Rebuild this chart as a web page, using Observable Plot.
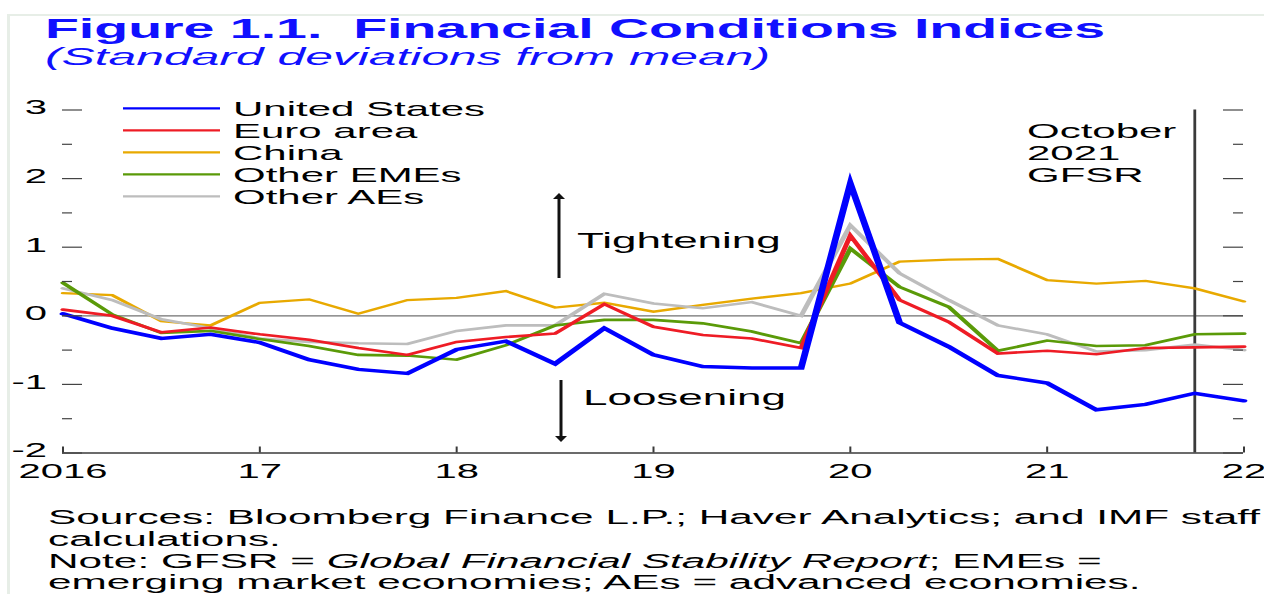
<!DOCTYPE html>
<html>
<head>
<meta charset="utf-8">
<script src="https://cdn.jsdelivr.net/npm/d3@7"></script>
<script src="https://cdn.jsdelivr.net/npm/@observablehq/plot@0.6"></script>
<style>
  html, body { margin: 0; padding: 0; background: #fff; width: 1264px; height: 594px; overflow: hidden;
    font-family: "Liberation Sans", Arial, sans-serif; }
  #frame { position: absolute; left: 7px; top: 14px; width: 1260px; height: 590px;
    border-left: 3px solid #e7eee7; border-top: 2px solid #e7eee7; }
  .st { position: absolute; white-space: nowrap; transform-origin: 0 0; line-height: 1; }
  #title { left: 45px; top: 16px; font-weight: bold; font-size: 27px; color: #1010ff; }
  #subtitle { left: 45px; top: 46px; font-style: italic; font-size: 23px; color: #1010ff; }
  .note { left: 48px; font-size: 20px; color: #000; }
</style>
</head>
<body>
<div id="frame"></div>
<div id="title" class="st">Figure 1.1.&nbsp; Financial Conditions Indices</div>
<div id="subtitle" class="st">(Standard deviations from mean)</div>
<div id="n1" class="st note" style="top:507px">Sources: Bloomberg Finance L.P.; Haver Analytics; and IMF staff</div>
<div id="n2" class="st note" style="top:529px">calculations.</div>
<div id="n3" class="st note" style="top:551px">Note: GFSR = <i>Global Financial Stability Report</i>; EMEs =</div>
<div id="n4" class="st note" style="top:572px">emerging market economies; AEs = advanced economies.</div>
<div id="chart"></div>
<script>
// ---------------- data ----------------
const quarters = ["2016Q1","2016Q2","2016Q3","2016Q4","2017Q1","2017Q2","2017Q3","2017Q4",
  "2018Q1","2018Q2","2018Q3","2018Q4","2019Q1","2019Q2","2019Q3","2019Q4",
  "2020Q1","2020Q2","2020Q3","2020Q4","2021Q1","2021Q2","2021Q3","2021Q4","2022Q1"];
const seriesNames = ["United States", "Euro area", "China", "Other EMEs", "Other AEs"];
const unitedStates = [0.03,-0.18,-0.33,-0.27,-0.39,-0.64,-0.78,-0.84,-0.49,-0.37,-0.70,-0.18,-0.57,-0.74,-0.76,-0.76,1.93,-0.10,-0.45,-0.87,-0.98,-1.37,-1.29,-1.13,-1.24];
const euroArea     = [0.09,0.00,-0.24,-0.17,-0.27,-0.35,-0.47,-0.57,-0.38,-0.31,-0.26,0.17,-0.16,-0.28,-0.33,-0.47,1.17,0.23,-0.09,-0.55,-0.51,-0.56,-0.47,-0.46,-0.45];
const china        = [0.33,0.30,-0.08,-0.14,0.19,0.24,0.03,0.23,0.26,0.36,0.12,0.19,0.06,0.16,0.25,0.33,0.47,0.79,0.82,0.83,0.52,0.47,0.51,0.40,0.21];
const otherEMEs    = [0.48,0.02,-0.25,-0.22,-0.34,-0.44,-0.57,-0.58,-0.64,-0.43,-0.14,-0.06,-0.06,-0.11,-0.23,-0.40,0.98,0.42,0.13,-0.51,-0.36,-0.44,-0.43,-0.27,-0.26];
const otherAEs     = [0.40,0.23,-0.05,-0.18,-0.33,-0.38,-0.40,-0.41,-0.22,-0.14,-0.14,0.32,0.18,0.11,0.20,0.00,1.32,0.62,0.23,-0.14,-0.27,-0.52,-0.50,-0.42,-0.50];
const seriesValues = [unitedStates, euroArea, china, otherEMEs, otherAEs];
const gfsrDate = [2021.75];
const gfsrLabel = ["October", "2021", "GFSR"];
const xTicks = [2016, 2017, 2018, 2019, 2020, 2021, 2022];
const xTickLabels = ["2016", "17", "18", "19", "20", "21", "22"];
const yTicks = [3, 2, 1, 0, -1, -2];
const yTickLabels = ["3", "2", "1", "0", "-1", "-2"];
const yMinorTicks = [2.5, 1.5, 0.5, -0.5, -1.5];

// ---------------- styles ----------------
const seriesStyle = {
  "United States": {stroke: "#0000ff", width: 3.4},
  "Euro area":     {stroke: "#ee1c25", width: 2.6},
  "China":         {stroke: "#e8a900", width: 2.3},
  "Other EMEs":    {stroke: "#5a9a08", width: 2.6},
  "Other AEs":     {stroke: "#bdbdbd", width: 2.6}
};
const drawOrder = ["China", "Other AEs", "Other EMEs", "Euro area", "United States"];
const K = 2; // horizontal stretch of the original figure

const toYear = q => +q.slice(0, 4) + (+q.slice(5) - 1) / 4;
const rows = seriesNames.flatMap((s, i) =>
  quarters.map((q, j) => ({series: s, date: toYear(q), value: seriesValues[i][j]})));

const W = 1264 / K, H = 400;
const mL = 31, mR = 10.5, mT = 19.5, mB = 37.5;
const frameW = W - mL - mR, frameH = H - mT - mB;
const font = '"Liberation Sans", Arial, sans-serif';

const plot = Plot.plot({
  width: W, height: H,
  marginLeft: mL, marginRight: mR, marginTop: mT, marginBottom: mB,
  x: {domain: [xTicks[0], xTicks[xTicks.length - 1]], axis: null},
  y: {domain: [yTicks[yTicks.length - 1], yTicks[0]], axis: null},
  style: {fontFamily: font, fontSize: "20px", color: "#000", background: "transparent"},
  marks: [
    Plot.ruleY([0], {stroke: "#707070", strokeWidth: 1.2}),
    Plot.ruleX(gfsrDate, {x: d => d, stroke: "#3a3a3a", strokeWidth: 1.4}),
    ...drawOrder.map(s => Plot.line(rows.filter(r => r.series === s), {
      x: "date", y: "value", stroke: seriesStyle[s].stroke, strokeWidth: seriesStyle[s].width,
      strokeLinejoin: "miter", strokeMiterlimit: 10
    })),
    // x baseline
    Plot.ruleY([yTicks[yTicks.length - 1]], {stroke: "#3a3a3a", strokeWidth: 1.3}),
    // y ticks left / right (major and minor)
    Plot.tickY(yTicks, {y: d => d, insetRight: frameW - 10, stroke: "#444", strokeWidth: 1.2}),
    Plot.tickY(yMinorTicks, {y: d => d, insetRight: frameW - 5, stroke: "#444", strokeWidth: 1.2}),
    Plot.tickY(yTicks, {y: d => d, insetLeft: frameW - 10, stroke: "#444", strokeWidth: 1.2}),
    Plot.tickY(yMinorTicks, {y: d => d, insetLeft: frameW - 5, stroke: "#444", strokeWidth: 1.2}),
    // x ticks (inward)
    Plot.tickX(xTicks, {x: d => d, insetTop: frameH - 6, stroke: "#3a3a3a", strokeWidth: 1}),
    // tick labels
    Plot.text(yTicks, {y: d => d, text: (d, i) => yTickLabels[i], frameAnchor: "left",
      textAnchor: "end", dx: -8, dy: -2, fontSize: 20}),
    Plot.text(xTicks, {x: d => d, text: (d, i) => xTickLabels[i], frameAnchor: "bottom",
      lineAnchor: "middle", dy: 19, fontSize: 20})
  ]
});

plot.setAttribute("viewBox", `0 0 ${W} ${H}`);
plot.setAttribute("preserveAspectRatio", "none");
plot.setAttribute("width", 1264);
plot.setAttribute("height", H);
plot.setAttribute("style", `position:absolute;left:0;top:90px;width:1264px;height:${H}px;max-width:none;overflow:visible;background:transparent;font-family:${font};font-size:20px;color:#000;`);

// ---------------- legend and annotations ----------------
const svg = d3.select(plot);
const lg = svg.append("g").attr("font-family", font).attr("font-size", 21).attr("fill", "#000")
  .attr("text-anchor", "start");
seriesNames.forEach((s, i) => {
  const y = 18.3 + 22 * i;
  lg.append("line").attr("x1", 61.5).attr("x2", 110).attr("y1", y).attr("y2", y)
    .attr("stroke", seriesStyle[s].stroke).attr("stroke-width", 2.3);
  lg.append("text").attr("x", 116.5).attr("y", y + 7.5).text(s);
});

const an = svg.append("g").attr("font-family", font).attr("fill", "#000").attr("text-anchor", "start");
function arrow(x, y0, y1) {
  const dir = y1 < y0 ? -1 : 1;
  an.append("line").attr("x1", x).attr("x2", x).attr("y1", y0).attr("y2", y1 - dir * 5)
    .attr("stroke", "#111").attr("stroke-width", 1.5);
  an.append("path").attr("d", `M${x},${y1}L${x - 3},${y1 - dir * 6}L${x + 3},${y1 - dir * 6}Z`).attr("fill", "#111");
}
arrow(279.5, 188, 103);
arrow(280.5, 290, 352);
an.append("text").attr("x", 288.5).attr("y", 158).attr("font-size", 22).text("Tightening");
an.append("text").attr("x", 291.5).attr("y", 315).attr("font-size", 22).text("Loosening");
gfsrLabel.forEach((t, i) => {
  an.append("text").attr("x", 513.5).attr("y", 48.3 + 21.7 * i).attr("font-size", 21).text(t);
});

document.getElementById("chart").appendChild(plot);

// ---------------- stretch HTML texts like the original ----------------
function fit(id, target) {
  const el = document.getElementById(id);
  const w = el.getBoundingClientRect().width;
  const k = target / w;
  el.style.transform = `scaleX(${k})`;
  return k;
}
fit("title", 1060);
fit("subtitle", 725);
const kn = fit("n1", 1212);
["n2", "n3", "n4"].forEach(id => document.getElementById(id).style.transform = `scaleX(${kn})`);
</script>
</body>
</html>
